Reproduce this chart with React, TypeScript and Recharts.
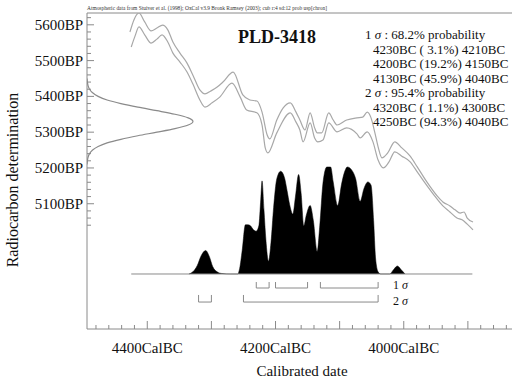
import React from "react";
import { Area, ComposedChart, ReferenceLine, Scatter, XAxis, YAxis } from "recharts";

// calibration curve band, [year BC, BP]
const calUpper: [number, number][] = [
  [4427, 5580], [4421, 5613], [4413, 5633], [4404, 5608], [4394, 5583], [4385, 5591], [4376, 5599],
  [4368, 5586], [4360, 5552], [4349, 5521], [4338, 5493], [4329, 5460], [4318, 5418], [4310, 5407],
  [4301, 5415], [4291, 5426], [4282, 5440], [4266, 5468], [4251, 5404], [4240, 5390], [4229, 5387],
  [4221, 5356], [4213, 5292], [4209, 5281], [4198, 5334], [4188, 5368], [4177, 5382], [4168, 5356],
  [4162, 5334], [4154, 5306], [4146, 5354], [4139, 5312], [4135, 5298], [4128, 5298], [4117, 5354],
  [4110, 5334], [4104, 5320], [4089, 5334], [4073, 5340], [4064, 5342], [4057, 5356], [4051, 5340],
  [4045, 5298], [4040, 5259], [4034, 5228], [4025, 5242], [4014, 5273], [4003, 5256], [3990, 5233],
  [3979, 5203], [3964, 5161], [3948, 5122], [3939, 5105], [3928, 5094], [3920, 5083], [3912, 5074],
  [3906, 5077], [3901, 5060], [3892, 5049],
];
const calLower: [number, number][] = [
  [4425, 5538], [4419, 5569], [4413, 5594], [4404, 5572], [4394, 5549], [4385, 5560], [4377, 5572],
  [4368, 5552], [4360, 5521], [4349, 5496], [4338, 5468], [4329, 5435], [4318, 5390], [4310, 5370],
  [4299, 5382], [4287, 5398], [4268, 5437], [4255, 5398], [4245, 5362], [4229, 5354], [4221, 5320],
  [4216, 5256], [4212, 5242], [4198, 5298], [4177, 5354], [4168, 5328], [4162, 5306], [4157, 5273],
  [4146, 5326], [4139, 5284], [4134, 5273], [4126, 5278], [4117, 5326], [4104, 5301], [4089, 5312],
  [4073, 5295], [4068, 5284], [4057, 5301], [4048, 5273], [4040, 5222], [4032, 5200], [4023, 5217],
  [4014, 5245], [4003, 5233], [3990, 5217], [3979, 5189], [3970, 5166], [3954, 5127], [3939, 5094],
  [3928, 5077], [3917, 5060], [3909, 5055], [3901, 5043], [3892, 5027],
];

// measured radiocarbon age, relative probability
const c14Bp = [5210, 5220, 5230, 5240, 5250, 5260, 5270, 5280, 5290, 5300, 5310, 5320, 5330, 5340, 5350,
  5360, 5370, 5380, 5390, 5400, 5410, 5420, 5430, 5440, 5450];
const c14Prob = [0.0, 0.004, 0.01, 0.024, 0.053, 0.105, 0.19, 0.32, 0.48, 0.66, 0.83, 0.955, 1.0, 0.955,
  0.83, 0.66, 0.48, 0.32, 0.19, 0.105, 0.053, 0.024, 0.01, 0.004, 0.0];

// calibrated date, relative probability
const postBc = [4335, 4329, 4322, 4316, 4309, 4303, 4298, 4291, 4284, 4270, 4259, 4256, 4252, 4247, 4243,
  4239, 4234, 4230, 4226, 4223, 4221, 4218, 4215, 4211, 4207, 4203, 4198, 4192, 4186, 4182, 4178, 4173,
  4169, 4164, 4160, 4156, 4152, 4146, 4141, 4135, 4131, 4126, 4120, 4114, 4110, 4103, 4097, 4092, 4088,
  4081, 4075, 4068, 4062, 4056, 4051, 4047, 4044, 4040, 4036, 4022, 4016, 4010, 4004, 3998];
const postProb = [0, 0.02, 0.08, 0.17, 0.22, 0.16, 0.07, 0.02, 0.005, 0, 0, 0.05, 0.22, 0.46, 0.46,
  0.45, 0.41, 0.4, 0.45, 0.7, 0.87, 0.6, 0.32, 0.12, 0.3, 0.62, 0.89, 0.96, 0.9, 0.78, 0.65, 0.56,
  0.72, 0.93, 0.75, 0.45, 0.55, 0.64, 0.5, 0.21, 0.45, 0.85, 1.0, 1.0, 0.86, 0.64, 0.84, 0.96, 1.0,
  0.97, 0.89, 0.68, 0.8, 0.86, 0.83, 0.5, 0.15, 0.02, 0, 0, 0.04, 0.075, 0.04, 0];

const baselineSpan = [4425, 3893];
const sigma1Ranges = [[4230, 4210], [4200, 4150], [4130, 4040]];
const sigma2Ranges = [[4320, 4300], [4250, 4040]];

const xLabelYears = [4400, 4200, 4000];
const yLabelBp = [5100, 5200, 5300, 5400, 5500, 5600];

const title = "PLD-3418";
const note =
  "Atmospheric data from Stuiver et al. (1998); OxCal v3.9 Bronk Ramsey (2003); cub r:4 sd:12 prob usp[chron]";
const legendLines = [
  { sigma: "1", text: " : 68.2% probability" },
  { text: "4230BC ( 3.1%) 4210BC" },
  { text: "4200BC (19.2%) 4150BC" },
  { text: "4130BC (45.9%) 4040BC" },
  { sigma: "2", text: " : 95.4% probability" },
  { text: "4320BC ( 1.1%) 4300BC" },
  { text: "4250BC (94.3%) 4040BC" },
];

const W = 542;
const H = 378;
const LEFT = 87;
const TOP = 13;
const BOTTOM = 329;
const FRAME = "#8a8a8a";
const CURVE = "#a8a8a8";
const FONT = "'Liberation Serif', 'Times New Roman', serif";

const xTicks: number[] = [];
for (let y = 4480; y >= 3820; y -= 20) xTicks.push(-y);
const yTicks: number[] = [];
for (let b = 5040; b <= 5620; b += 20) yTicks.push(b);

const NoDot = () => <g />;

function CalTick({ x, payload }: { x?: number; payload?: { value: number } }) {
  const yr = -(payload?.value ?? 0);
  const major = yr % 100 === 0;
  return (
    <g>
      <line x1={x} x2={x} y1={BOTTOM} y2={BOTTOM - (major ? 8 : 4)} stroke={FRAME} />
      {xLabelYears.includes(yr) && (
        <text x={x} y={353} textAnchor="middle" fontFamily={FONT} fontSize={15} fill="#111">
          {yr}CalBC
        </text>
      )}
    </g>
  );
}

function BpTick({ y, payload }: { y?: number; payload?: { value: number } }) {
  const bp = payload?.value ?? 0;
  const major = bp % 100 === 0;
  return (
    <g>
      <line x1={LEFT} x2={LEFT + (major ? 7 : 4)} y1={y} y2={y} stroke={FRAME} />
      {yLabelBp.includes(bp) && (
        <text x={LEFT - 4} y={(y ?? 0) + 5} textAnchor="end" fontFamily={FONT} fontSize={15} fill="#111">
          {bp}BP
        </text>
      )}
    </g>
  );
}

function bracket(a: number, b: number, top: number, bot: number) {
  return [
    { x: -a, y: top },
    { x: -a, y: bot },
    { x: -b, y: bot },
    { x: -b, y: top },
  ];
}

export default function App() {
  const postData = postBc.map((bc, i) => ({ x: -bc, y: postProb[i] }));
  const upper = calUpper.map(([bc, bp]) => ({ x: -bc, y: bp }));
  const lower = calLower.map(([bc, bp]) => ({ x: -bc, y: bp }));
  const gauss = c14Bp.map((bp, i) => ({ x: c14Prob[i], y: bp }));

  return (
    <div
      style={{
        position: "absolute",
        left: 0,
        top: 0,
        width: 512,
        height: 378,
        overflow: "hidden",
        background: "#fff",
        fontFamily: FONT,
        color: "#111",
      }}
    >
      <ComposedChart width={W} height={H} data={postData} margin={{ top: TOP, right: 10, bottom: 0, left: 0 }}>
        <XAxis
          xAxisId="cal"
          dataKey="x"
          type="number"
          domain={[-4494, -3800]}
          allowDataOverflow
          ticks={xTicks}
          interval={0}
          tickLine={false}
          tick={<CalTick />}
          height={H - BOTTOM}
          axisLine={{ stroke: FRAME }}
        />
        <XAxis xAxisId="dens" dataKey="x" type="number" domain={[0, 4.2]} allowDataOverflow hide />
        <YAxis
          yAxisId="bp"
          dataKey="y"
          type="number"
          domain={[4750, 5633]}
          allowDataOverflow
          ticks={yTicks}
          interval={0}
          tickLine={false}
          tick={<BpTick />}
          width={LEFT}
          axisLine={{ stroke: FRAME }}
        />
        <YAxis yAxisId="prob" dataKey="y" type="number" domain={[-0.514, 2.439]} allowDataOverflow hide />

        <ReferenceLine xAxisId="cal" yAxisId="bp" y={5633} stroke={FRAME} />

        <Area
          xAxisId="cal"
          yAxisId="prob"
          dataKey="y"
          type="monotoneX"
          baseValue={0}
          fill="#000"
          fillOpacity={1}
          stroke="#000"
          strokeWidth={0.5}
          isAnimationActive={false}
        />
        <ReferenceLine
          xAxisId="cal"
          yAxisId="prob"
          segment={[
            { x: -baselineSpan[0], y: 0 },
            { x: -baselineSpan[1], y: 0 },
          ]}
          stroke={FRAME}
        />

        <Scatter
          xAxisId="cal"
          yAxisId="bp"
          data={upper}
          line={{ stroke: CURVE, strokeWidth: 1.2 }}
          lineJointType="monotoneX"
          shape={NoDot}
          isAnimationActive={false}
        />
        <Scatter
          xAxisId="cal"
          yAxisId="bp"
          data={lower}
          line={{ stroke: CURVE, strokeWidth: 1.2 }}
          lineJointType="monotoneX"
          shape={NoDot}
          isAnimationActive={false}
        />
        <Scatter
          xAxisId="dens"
          yAxisId="bp"
          data={gauss}
          line={{ stroke: FRAME, strokeWidth: 1.2 }}
          lineJointType="monotoneY"
          shape={NoDot}
          isAnimationActive={false}
        />

        {sigma1Ranges.map(([a, b], i) => (
          <Scatter
            key={"s1" + i}
            xAxisId="cal"
            yAxisId="prob"
            data={bracket(a, b, -0.075, -0.131)}
            line={{ stroke: FRAME, strokeWidth: 1 }}
            shape={NoDot}
            isAnimationActive={false}
          />
        ))}
        {sigma2Ranges.map(([a, b], i) => (
          <Scatter
            key={"s2" + i}
            xAxisId="cal"
            yAxisId="prob"
            data={bracket(a, b, -0.196, -0.262)}
            line={{ stroke: FRAME, strokeWidth: 1 }}
            shape={NoDot}
            isAnimationActive={false}
          />
        ))}
      </ComposedChart>

      <svg style={{ position: "absolute", left: 0, top: 0 }} width={512} height={14}>
        <text x={LEFT} y={10} fontFamily={FONT} fontSize={5.5} fill="#333" textLength={240} lengthAdjust="spacingAndGlyphs">
          {note}
        </text>
      </svg>

      <div
        style={{
          position: "absolute",
          left: 200,
          width: 154,
          top: 26,
          textAlign: "center",
          fontWeight: "bold",
          fontSize: 18,
          lineHeight: "22px",
        }}
      >
        {title}
      </div>

      <div style={{ position: "absolute", left: 365, top: 28, fontSize: 13, lineHeight: "14.5px", whiteSpace: "pre" }}>
        {legendLines.map((l, i) =>
          l.sigma ? (
            <div key={i}>
              {l.sigma}
              <i> σ</i>
              {l.text}
            </div>
          ) : (
            <div key={i} style={{ paddingLeft: 8 }}>
              {l.text}
            </div>
          )
        )}
      </div>

      <div style={{ position: "absolute", left: 393, top: 277, fontSize: 12, lineHeight: "16px", whiteSpace: "pre" }}>
        <div>
          1<i> σ</i>
        </div>
        <div>
          2<i> σ</i>
        </div>
      </div>

      <div
        style={{ position: "absolute", left: 202, width: 200, top: 362, textAlign: "center", fontSize: 15, lineHeight: "18px" }}
      >
        Calibrated date
      </div>
      <div
        style={{
          position: "absolute",
          left: 13 - 100,
          top: 180 - 10,
          width: 200,
          height: 20,
          textAlign: "center",
          fontSize: 16,
          lineHeight: "20px",
          transform: "rotate(-90deg)",
          whiteSpace: "nowrap",
        }}
      >
        Radiocarbon determination
      </div>
    </div>
  );
}
